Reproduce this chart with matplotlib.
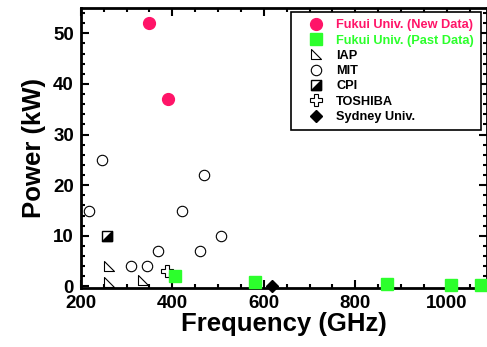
import numpy as np
import matplotlib
matplotlib.use('Agg')
import matplotlib.pyplot as plt
from matplotlib.legend_handler import HandlerTuple
from matplotlib.ticker import MultipleLocator
from matplotlib.path import Path

plt.rcParams['font.family'] = ['Liberation Sans', 'DejaVu Sans']
plt.rcParams['font.weight'] = 'bold'

# data
fukui_new_f = [350, 390]
fukui_new_p = [52, 37]
fukui_past_f = [405, 580, 870, 1010, 1075]
fukui_past_p = [2, 0.9, 0.5, 0.2, 0.2]
iap_f = [261, 261, 336]
iap_p = [4, 0.8, 1.2]
mit_f = [217, 247, 309, 345, 369, 422, 470, 461, 506]
mit_p = [15, 25, 4, 4, 7, 15, 22, 7, 10]
cpi_f = [258]
cpi_p = [10]
toshiba_f = [389]
toshiba_p = [3]
sydney_f = [617]
sydney_p = [0.05]

red = '#ff1468'
green = '#2cff2c'

fig = plt.figure(figsize=(4.87, 3.47), dpi=100)
ax = fig.add_axes([0.166, 0.170, 0.834, 0.807])

tri = Path([(-1, 1), (-1, -1), (1, -1), (-1, 1)], closed=True)
lr_tri = Path([(1, 1), (1, -1), (-1, -1), (1, 1)], closed=True)

h_new, = ax.plot(fukui_new_f, fukui_new_p, 'o', color=red, ms=8.5, mec=red, ls='none', clip_on=False)
h_past, = ax.plot(fukui_past_f, fukui_past_p, 's', color=green, ms=8.5, mec=green, ls='none', clip_on=False, zorder=3)
h_iap, = ax.plot(iap_f, iap_p, marker=tri, mfc='white', mec='black', mew=0.8, ms=7.5, ls='none', clip_on=False)
h_mit, = ax.plot(mit_f, mit_p, 'o', mfc='white', mec='black', mew=0.8, ms=7.5, ls='none', clip_on=False)
h_cpi1, = ax.plot(cpi_f, cpi_p, 's', mfc='white', mec='black', mew=1.0, ms=7.5, ls='none')
h_cpi2, = ax.plot(cpi_f, cpi_p, marker=lr_tri, mfc='black', mec='black', mew=1.0, ms=7.5, ls='none')
h_tosh, = ax.plot(toshiba_f, toshiba_p, 'P', mfc='white', mec='black', mew=0.8, ms=8.5, ls='none')
h_syd, = ax.plot(sydney_f, sydney_p, 'D', color='black', ms=6.5, ls='none', clip_on=False, zorder=4)

ax.set_xlim(200, 1088)
ax.set_ylim(-0.3, 55)
ax.xaxis.set_major_locator(MultipleLocator(200))
ax.xaxis.set_minor_locator(MultipleLocator(50))
ax.yaxis.set_major_locator(MultipleLocator(10))
ax.yaxis.set_minor_locator(MultipleLocator(2))
ax.tick_params(which='both', direction='in', top=True, right=True, width=1.5, labelsize=13.5)
ax.tick_params(which='major', length=6, pad=5)
ax.tick_params(which='minor', length=3)
for sp in ax.spines.values():
    sp.set_linewidth(2)
for lab in ax.get_xticklabels() + ax.get_yticklabels():
    lab.set_fontweight('bold')

ax.set_xlabel('Frequency (GHz)', fontsize=18.5, fontweight='bold', labelpad=0)
ax.set_ylabel('Power (kW)', fontsize=18.5, fontweight='bold', labelpad=5)

leg = ax.legend([h_new, h_past, h_iap, h_mit, (h_cpi1, h_cpi2), h_tosh, h_syd],
                ['Fukui Univ. (New Data)', 'Fukui Univ. (Past Data)', 'IAP', 'MIT',
                 'CPI', 'TOSHIBA', 'Sydney Univ.'],
                handler_map={tuple: HandlerTuple(ndivide=1)},
                loc='upper right', bbox_to_anchor=(0.985, 0.985),
                prop={'weight': 'bold', 'size': 9.2}, frameon=True, fancybox=False,
                edgecolor='black', framealpha=1, borderpad=0.55, labelspacing=0.26,
                handletextpad=0.2, handlelength=2.8, borderaxespad=0)
leg.get_frame().set_linewidth(1.2)
leg.get_texts()[0].set_color(red)
leg.get_texts()[1].set_color(green)

fig.savefig('out.png', dpi=100)
